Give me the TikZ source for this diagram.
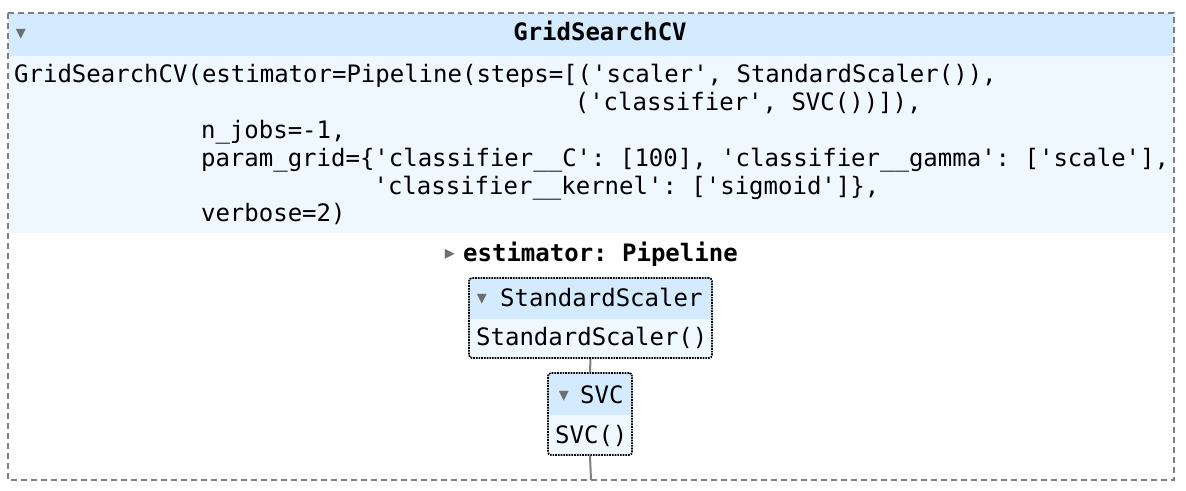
\documentclass[tikz,border=0pt]{standalone}
\usepackage{fontspec}
\setmonofont{DejaVu Sans Mono}
\newfontfamily\symfont{DejaVu Sans}
\definecolor{hdrblue}{HTML}{D4EBFF}
\definecolor{bdyblue}{HTML}{F0F8FF}
\definecolor{boxgray}{HTML}{808080}
\definecolor{trigray}{HTML}{6E6E6E}
\newcommand{\cw}{14.375}
\begin{document}
\begin{tikzpicture}[x=1pt, y=-1pt,
  code/.style={anchor=base west, inner sep=0pt, font=\ttfamily\fontsize{24}{28}\selectfont},
  bold/.style={code, font=\ttfamily\bfseries\fontsize{24}{28}\selectfont},
  tri/.style={inner sep=0pt, text=trigray, font=\symfont\fontsize{20}{20}\selectfont},
  estbox/.style={draw=black, densely dotted, line width=1.7pt, rounded corners=3pt, fill=bdyblue, inner sep=0pt},
  conn/.style={draw=boxgray, line width=2pt}]

  \useasboundingbox (0,0) rectangle (1186,490);

  \fill[hdrblue] (8,13) rectangle (1174,56);
  \fill[bdyblue] (8,56) rectangle (1174,233);
  \draw[boxgray, line width=2pt, dash pattern=on 6pt off 4pt] (8,13) rectangle (1174,480);

  \node[tri] (gstri) at (21,34) {\char"25BE};
  \node[bold, anchor=base] (gstitle) at (600,40) {GridSearchCV};

  \node[code] (ln1) at (14,82) {GridSearchCV(estimator=Pipeline(steps=[('scaler', StandardScaler()),};
  \node[code] (ln2) at (14+39*\cw,110) {('classifier', SVC())]),};
  \node[code] (ln3) at (14+13*\cw,138) {n\_jobs=-1,};
  \node[code] (ln4) at (14+13*\cw,166) {param\_grid=\{'classifier\_\_C': [100], 'classifier\_\_gamma': ['scale'],};
  \node[code] (ln5) at (14+25*\cw,194) {'classifier\_\_kernel': ['sigmoid']\},};
  \node[code] (ln6) at (14+13*\cw,221) {verbose=2)};

  \node[tri] (pltri) at (450,254) {\char"25B8};
  \node[bold] (pltitle) at (463,261) {estimator: Pipeline};

  \node[estbox, minimum width=243pt, minimum height=80pt,
    path picture={\fill[hdrblue] (path picture bounding box.north west) rectangle ([yshift=-41pt]path picture bounding box.north east);}]
    (scaler) at (590.5,318) {};
  \node[tri] (sctri) at (482,299) {\char"25BE};
  \node[code] (schead) at (500,306) {StandardScaler};
  \node[code] (scbody) at (476,345) {StandardScaler()};

  \node[estbox, minimum width=84pt, minimum height=82pt,
    path picture={\fill[hdrblue] (path picture bounding box.north west) rectangle ([yshift=-42pt]path picture bounding box.north east);}]
    (svc) at (590,414) {};
  \node[tri] (svtri) at (564,396) {\char"25BE};
  \node[code] (svhead) at (580,403) {SVC};
  \node[code] (svbody) at (555,443) {SVC()};

  \coordinate (outbot) at (591,480);
  \draw[conn] (scaler.south) -- (svc.north);
  \draw[conn] (svc.south) -- (outbot);
\end{tikzpicture}
\end{document}
